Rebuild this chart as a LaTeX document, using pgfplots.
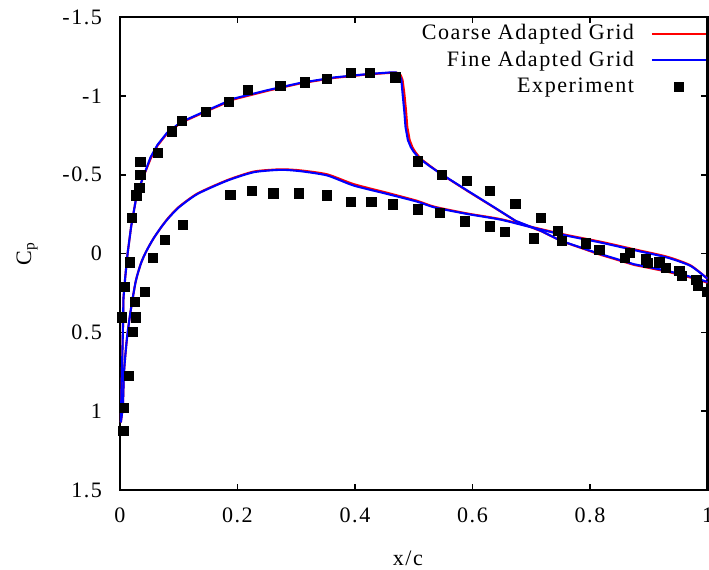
\documentclass[border=0pt]{standalone}
\usepackage{fontspec}
\setmainfont{Liberation Serif}[LetterSpace=7]
\usepackage{pgfplots}
\pgfplotsset{compat=1.18}
\pgfplotsset{
  lineleg/.style={legend image code/.code={\draw[##1] (0pt,0pt) -- (26pt,0pt);}},
  markleg/.style={legend image code/.code={\draw[mark repeat=2, mark phase=2, ##1] plot coordinates {(0pt,0pt) (13pt,0pt) (26pt,0pt)};}},
}
\begin{document}
\begin{tikzpicture}
\begin{axis}[name=ax, scale only axis, width=279.7pt, height=225.2pt,
  font=\fontsize{10.5}{12.6}\selectfont,
  xmin=0, xmax=1, ymin=-1.5, ymax=1.5, y dir=reverse,
  xtick={0,0.2,0.4,0.6,0.8,1}, xticklabels={0,0.2,0.4,0.6,0.8,1},
  ytick={-1.5,-1,-0.5,0,0.5,1,1.5}, yticklabels={-1.5,-1,-0.5,0,0.5,1,1.5},
  tick align=inside, major tick length=3pt,
  tick style={line width=0.8pt, black},
  axis line style={line width=1pt},
  yticklabel style={xshift=-5pt},
  xticklabel style={yshift=-5pt},
  xlabel={x/c}, ylabel={C\textsubscript{p}},
  xlabel style={at={(axis description cs:0.49,-0.144)}, anchor=center},
  ylabel style={at={(axis description cs:-0.158,0.5)}, anchor=center},
  legend plot pos=right, legend cell align=right,
  legend style={draw=none, fill=none, at={(1,1)}, anchor=north east, inner sep=0pt, outer sep=0pt, row sep=0pt, yshift=-1.5pt,
    /tikz/every odd column/.append style={column sep=6pt}},
]
% Coarse grid (red)
\addplot[red, line width=1pt, lineleg] coordinates {
(0.0015,1.07) (0.003,0.81) (0.005,0.49) (0.006,0.28) (0.009,0.15) (0.013,0.0) (0.019,-0.17) (0.027,-0.34) (0.037,-0.46) (0.052,-0.60) (0.064,-0.685) (0.08,-0.76) (0.104,-0.830) (0.149,-0.905) (0.194,-0.978) (0.251,-1.032) (0.308,-1.080) (0.365,-1.114) (0.421,-1.136) (0.464,-1.147) (0.472,-1.146) (0.478,-1.13) (0.481,-1.10) (0.484,-1.015) (0.487,-0.90) (0.489,-0.803) (0.493,-0.72) (0.498,-0.672) (0.503,-0.642) (0.512,-0.600) (0.528,-0.555) (0.548,-0.500) (0.593,-0.393) (0.639,-0.287) (0.675,-0.203) (0.718,-0.140) (0.752,-0.078) (0.818,0.008) (0.875,0.072) (0.932,0.115) (0.977,0.158) (1.0,0.185)
};
\addlegendentry{Coarse Adapted Grid}
\addplot[red, line width=1pt, forget plot, smooth, tension=0.4] coordinates {
(0.0015,1.07) (0.005,0.959) (0.007,0.747) (0.012,0.535) (0.019,0.344) (0.027,0.174) (0.035,0.07) (0.041,0.015) (0.047,-0.030) (0.057,-0.095) (0.070,-0.166) (0.082,-0.225) (0.100,-0.295) (0.132,-0.381) (0.183,-0.466) (0.228,-0.520) (0.274,-0.534) (0.308,-0.527) (0.353,-0.502) (0.398,-0.440) (0.455,-0.385) (0.506,-0.334) (0.535,-0.297) (0.591,-0.254) (0.648,-0.218) (0.705,-0.165) (0.761,-0.117) (0.818,-0.075) (0.875,-0.027) (0.931,0.020) (0.971,0.075) (1.0,0.16)
};
% Fine grid (blue)
\addplot[blue, line width=1pt, lineleg] coordinates {
(0.0015,1.07) (0.003,0.81) (0.005,0.49) (0.006,0.28) (0.009,0.15) (0.013,0.0) (0.019,-0.17) (0.027,-0.34) (0.037,-0.46) (0.052,-0.61) (0.064,-0.69) (0.08,-0.765) (0.104,-0.834) (0.149,-0.909) (0.194,-0.983) (0.251,-1.036) (0.308,-1.083) (0.365,-1.117) (0.421,-1.138) (0.462,-1.149) (0.470,-1.148) (0.476,-1.13) (0.479,-1.10) (0.481,-1.015) (0.484,-0.90) (0.486,-0.803) (0.490,-0.72) (0.495,-0.675) (0.500,-0.645) (0.509,-0.605) (0.525,-0.56) (0.546,-0.506) (0.591,-0.400) (0.637,-0.293) (0.673,-0.208) (0.716,-0.145) (0.750,-0.081) (0.818,0.004) (0.875,0.068) (0.932,0.110) (0.977,0.153) (1.0,0.18)
};
\addlegendentry{Fine Adapted Grid}
\addplot[blue, line width=1pt, forget plot, smooth, tension=0.4] coordinates {
(0.0015,1.07) (0.005,0.959) (0.007,0.747) (0.012,0.535) (0.019,0.344) (0.027,0.174) (0.035,0.07) (0.041,0.015) (0.047,-0.030) (0.057,-0.095) (0.070,-0.166) (0.082,-0.222) (0.100,-0.292) (0.132,-0.378) (0.183,-0.463) (0.228,-0.516) (0.274,-0.531) (0.308,-0.522) (0.353,-0.495) (0.398,-0.431) (0.455,-0.378) (0.506,-0.329) (0.535,-0.293) (0.591,-0.251) (0.648,-0.215) (0.705,-0.162) (0.761,-0.113) (0.818,-0.070) (0.875,-0.022) (0.931,0.025) (0.971,0.078) (1.0,0.16)
};
% Experiment
\addplot[only marks, mark=square*, mark size=2.2pt, black, markleg] coordinates {
(0.006,1.125) (0.007,0.981) (0.015,0.777) (0.022,0.499) (0.003,0.405) (0.027,0.405) (0.025,0.305) (0.043,0.244) (0.008,0.212) (0.017,0.057) (0.056,0.027) (0.076,-0.087) (0.107,-0.181) (0.020,-0.227) (0.028,-0.368) (0.033,-0.414) (0.035,-0.497) (0.035,-0.582) (0.064,-0.637) (0.088,-0.775) (0.105,-0.843) (0.146,-0.898) (0.185,-0.960) (0.218,-1.036) (0.273,-1.062) (0.315,-1.085) (0.352,-1.108) (0.393,-1.145) (0.425,-1.145) (0.469,-1.117) (0.507,-0.584) (0.548,-0.497) (0.590,-0.459) (0.630,-0.397) (0.673,-0.315) (0.717,-0.227) (0.745,-0.142)
(0.188,-0.374) (0.224,-0.395) (0.261,-0.382) (0.305,-0.382) (0.352,-0.368) (0.393,-0.327) (0.428,-0.327) (0.465,-0.312) (0.507,-0.280) (0.544,-0.259) (0.587,-0.204) (0.630,-0.172) (0.655,-0.136) (0.704,-0.096) (0.752,-0.081) (0.793,-0.064) (0.816,-0.024) (0.859,0.027) (0.868,-0.004) (0.895,0.038) (0.899,0.059) (0.918,0.057) (0.929,0.089) (0.952,0.110) (0.957,0.142) (0.981,0.165) (0.984,0.206) (0.999,0.244)
};
\addlegendentry{Experiment}
\end{axis}
\pgfresetboundingbox
\path[use as bounding box] ([xshift=-57.1pt,yshift=-37.6pt]ax.south west) rectangle ([xshift=0.7pt,yshift=8.1pt]ax.north east);
\end{tikzpicture}
\end{document}
